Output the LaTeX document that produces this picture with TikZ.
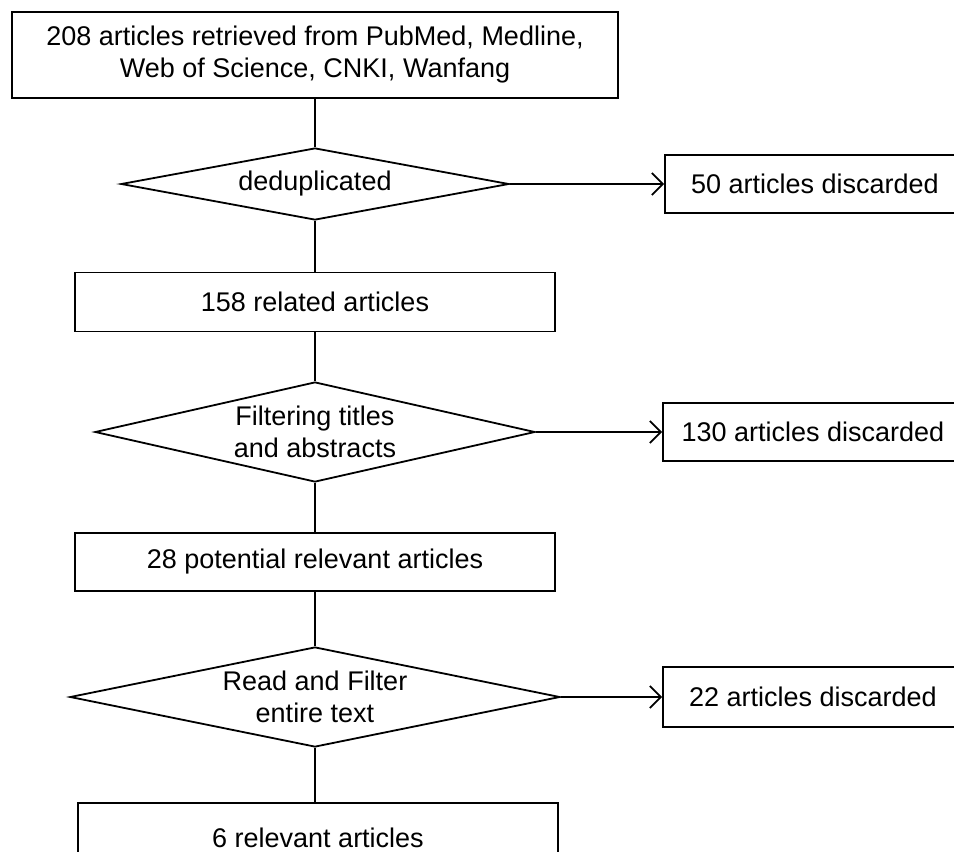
\documentclass[tikz,border=0pt]{standalone}
\usepackage{fontspec}
\setmainfont{Liberation Sans}
\usetikzlibrary{shapes.geometric,arrows.meta}
\begin{document}
\begin{tikzpicture}[x=1pt,y=-1pt,line width=1.8pt,
  font=\fontsize{27}{32}\selectfont,
  stepbox/.style={rectangle,draw,inner sep=0pt,minimum width=480pt,minimum height=59pt},
  dropbox/.style={rectangle,draw,inner sep=0pt,minimum width=300pt,minimum height=58pt},
  decision/.style={diamond,draw,inner sep=0pt,align=center},
  drop/.style={-{Straight Barb[length=11pt,width=22pt]}}]
\clip(0,0)rectangle(954,852);
\node[rectangle,draw,inner sep=0pt,minimum width=606pt,minimum height=86pt,align=center](src)at(315,55){208 articles retrieved from PubMed, Medline,\\Web of Science, CNKI, Wanfang};
\node[decision,minimum width=388pt,minimum height=72pt,label=center:{deduplicated}](dedup)at(315,184){};
\node[dropbox](drop1)at(815,184){50 articles discarded};
\node[stepbox](related)at(315,302){158 related articles};
\node[decision,minimum width=440pt,minimum height=100pt,label={[align=center]center:{Filtering titles\\and abstracts}}](title)at(315,432){};
\node[dropbox](drop2)at(813,432){130 articles discarded};
\node[stepbox,minimum height=58pt](potential)at(315,562){28 potential relevant articles};
\node[decision,minimum width=490pt,minimum height=100pt,label={[align=center]center:{Read and Filter\\entire text}}](fulltext)at(315,697){};
\node[dropbox,minimum height=60pt](drop3)at(813,697){22 articles discarded};
\node[stepbox,minimum height=70pt](final)at(318,838){6 relevant articles};
% main flow
\draw(src)--(dedup)--(related)--(title)--(potential)--(fulltext)--(fulltext.south|-final.north);
% discarded
\draw[drop](dedup.east)--(drop1.west);
\draw[drop](title.east)--(drop2.west);
\draw[drop](fulltext.east)--(drop3.west);
\end{tikzpicture}
\end{document}
